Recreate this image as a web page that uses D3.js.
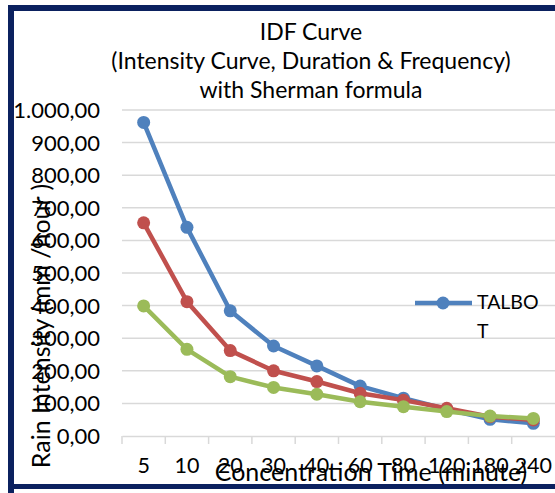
<!DOCTYPE html>
<html><head><meta charset="utf-8">
<script src="https://cdn.jsdelivr.net/npm/d3@7"></script>
<style>
html,body{margin:0;padding:0;background:#fff;}
svg{display:block;font-family:Lato,"Open Sans",sans-serif;}
</style></head>
<body>
<svg id="chart" width="555" height="493"></svg>
<script>
const categories = ["5","10","20","30","40","60","80","120","180","240"];
const seriesNames = ["TALBOT","SHERMAN","ISHIGURO"];
const talbot   = [962, 640, 384, 276, 215, 153, 116, 82, 51, 39];
const sherman  = [654, 412, 262, 200, 167, 131, 110, 85, 59, 49];
const ishiguro = [399, 266, 182, 149, 128, 105, 90, 75, 61, 54];
const yTicks = [0,100,200,300,400,500,600,700,800,900,1000];
const colors = ["#4f81bd","#c0504d","#9bbb59"];
const titleLines = ["IDF Curve","(Intensity Curve, Duration & Frequency)","with Sherman formula"];

const svg = d3.select("#chart");
const series = [talbot, sherman, ishiguro];

// frame
svg.append("path").attr("d","M11,493 L11,8 L560,8").attr("fill","none")
  .attr("stroke","#0b215f").attr("stroke-width",6);
svg.append("line").attr("x1",8).attr("x2",560).attr("y1",486.5).attr("y2",486.5)
  .attr("stroke","#0b215f").attr("stroke-width",5);

const x = d3.scaleBand().domain(categories).range([122,555]);
const y = d3.scaleLinear().domain([0,1000]).range([436,110]);

// gridlines
svg.append("g").selectAll("line").data(yTicks.filter(d=>d>0)).join("line")
  .attr("x1",122).attr("x2",555).attr("y1",d=>y(d)).attr("y2",d=>y(d))
  .attr("stroke","#d9d9d9").attr("stroke-width",1.5);

// x axis
const xAxis = d3.axisBottom(x).tickSizeOuter(0).tickSizeInner(0).tickFormat("");
const gx = svg.append("g").attr("transform","translate(0,436)").call(xAxis);
gx.select(".domain").attr("stroke","#d9d9d9").attr("stroke-width",1.5);
svg.append("g").selectAll("line").data(categories).join("line")
  .attr("x1",d=>x(d)).attr("x2",d=>x(d)).attr("y1",436).attr("y2",444)
  .attr("stroke","#d9d9d9").attr("stroke-width",1.5);
svg.append("g").selectAll("text").data(categories).join("text")
  .attr("x",d=>x(d)+x.bandwidth()/2).attr("y",473).attr("text-anchor","middle")
  .attr("font-size",21.5).attr("fill","#000").text(d=>d);

// y axis labels
const fmt = v => { const s = d3.format(",.2f")(v); return s.replace(/,/g,"#").replace(".",",").replace(/#/g,"."); };
svg.append("g").selectAll("text").data(yTicks).join("text")
  .attr("x",100).attr("y",d=>y(d)+8).attr("text-anchor","end")
  .attr("font-size",22).attr("fill","#000").text(d=>fmt(d));

// lines
const line = d3.line().x((d,i)=>x(categories[i])+x.bandwidth()/2).y(d=>y(d));
series.forEach((s,k)=>{
  svg.append("path").datum(s).attr("d",line).attr("fill","none")
    .attr("stroke",colors[k]).attr("stroke-width",4.5).attr("stroke-linejoin","round");
  svg.append("g").selectAll("circle").data(s).join("circle")
    .attr("cx",(d,i)=>x(categories[i])+x.bandwidth()/2).attr("cy",d=>y(d))
    .attr("r",6.5).attr("fill",colors[k]);
});

// title
titleLines.forEach((t,i)=>{
  svg.append("text").attr("x",311).attr("y",[40,69,98][i]).attr("text-anchor","middle")
    .attr("font-size",23).attr("fill","#000").text(t);
});

// legend
svg.append("line").attr("x1",415).attr("x2",472).attr("y1",303).attr("y2",303)
  .attr("stroke",colors[0]).attr("stroke-width",4.5);
svg.append("circle").attr("cx",443).attr("cy",303).attr("r",6.5).attr("fill",colors[0]);
svg.append("text").attr("x",477).attr("y",309).attr("font-size",19.5).text("TALBO");
svg.append("text").attr("x",477).attr("y",338).attr("font-size",19.5).text("T");

// axis titles
svg.append("text").attr("transform","translate(50,326) rotate(-90)").attr("text-anchor","middle")
  .attr("font-size",25).text("Rain Intensity (mm /hour )");
svg.append("text").attr("x",371).attr("y",481).attr("text-anchor","middle")
  .attr("font-size",25).text("Concentration Time (minute)");
</script>
</body></html>
